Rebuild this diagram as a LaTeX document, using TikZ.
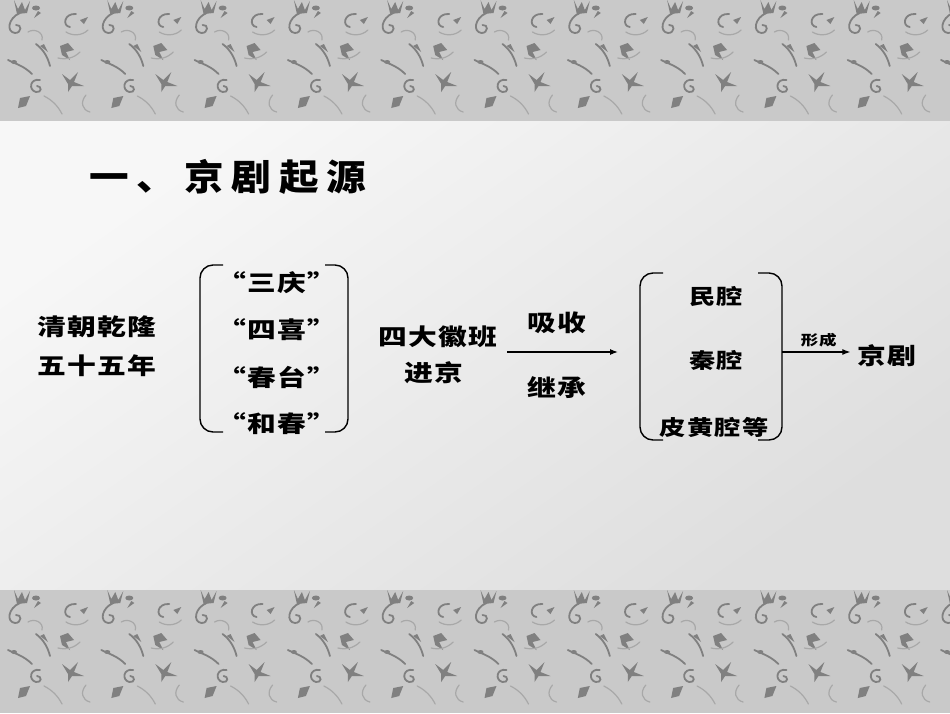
\documentclass[tikz,border=0pt]{standalone}
\usepackage{fontspec}
\newfontfamily\cjk{Noto Sans CJK SC}[FakeStretch=1.25,LetterSpace=6]
\newfontfamily\cjktitle{Noto Sans CJK SC}[FakeStretch=1.1,LetterSpace=22]
\usetikzlibrary{positioning,arrows.meta,calc}
\definecolor{bandgray}{RGB}{201,201,201}
\definecolor{motifgray}{RGB}{128,128,128}
\definecolor{motiflight}{RGB}{168,168,168}

\tikzset{
  txt/.style={font=\cjk\bfseries\fontsize{23}{26}\selectfont,inner sep=2pt},
  tune/.style={font=\cjk\bfseries\fontsize{21}{24}\selectfont,inner sep=2pt},
  paren/.style={line width=1.4pt,rounded corners=13pt},
  arr/.style={line width=1.2pt,-{Latex[length=8pt,width=6pt]}},
  swirl/.style={draw=motifgray,line width=1.8pt,line cap=round},
  thinswirl/.style={draw=motiflight,line width=1.2pt,line cap=round},
  leaf/.style={fill=motifgray},
  swirltile/.pic={
    % tulip and curling stem
    \fill[leaf] (14,0) -- (18,9) -- (22,2) -- (25,10) -- (30,1) -- (27,13) -- (17,14) -- cycle;
    \draw[swirl] (20,13) .. controls (8,18) and (6,32) .. (15,33) .. controls (22,33) and (22,24) .. (16,25);
    \fill[leaf] (36,8) ellipse (4 and 2.5);
    \fill[leaf] (41,13) -- (34,18) -- (38,11) -- cycle;
    % C curl and sprig
    \draw[swirl] (76,14) .. controls (64,13) and (62,26) .. (70,27);
    \draw[thinswirl] (66,32) .. controls (72,36) and (82,36) .. (88,30);
    \fill[leaf] (80,20) -- (88,17) -- (84,24) -- cycle;
    % middle curls
    \draw[thinswirl] (28,32) .. controls (34,28) and (44,32) .. (42,40);
    \draw[swirl] (36,44) .. controls (44,50) and (48,58) .. (50,66);
    \fill[leaf] (40,46) -- (48,52) -- (44,44) -- cycle;
    \fill[leaf] (60,46) -- (68,43) -- (74,50) -- (66,52) -- (70,60) -- (62,55) -- cycle;
    \draw[thinswirl] (58,58) .. controls (66,60) and (74,58) .. (80,52);
    % lower sprigs
    \draw[swirl] (8,60) .. controls (16,64) and (24,66) .. (32,74);
    \fill[leaf] (14,62) ellipse (3 and 2);
    \fill[leaf] (62,74) -- (70,80) -- (78,72) -- (74,82) -- (84,86) -- (72,86) -- (68,92) -- (68,84) -- cycle;
    \draw[swirl] (40,80) .. controls (30,78) and (28,90) .. (36,92) .. controls (42,93) and (42,86) .. (37,86);
    \draw[thinswirl] (44,96) .. controls (52,100) and (58,106) .. (62,114);
    \fill[leaf] (20,98) -- (30,96) -- (26,106) -- (18,108) -- cycle;
    \draw[thinswirl] (86,95) .. controls (80,102) and (82,110) .. (90,112);
  }
}

\begin{document}
\begin{tikzpicture}[x=1pt,y=-1pt]
    \useasboundingbox (0,0) rectangle (950,713);
    % Background
    \shade[top color=white!97!black,bottom color=white!87!black,shading angle=35] (0,121) rectangle (950,590);
    \begin{scope}
      \clip (0,0) rectangle (950,121) (0,590) rectangle (950,713);
      \fill[bandgray] (0,0) rectangle (950,121);
      \fill[bandgray] (0,590) rectangle (950,713);
      \foreach \i in {0,...,10} {
        \pic at (\i*93.3,0) {swirltile};
        \pic at (\i*93.3,590) {swirltile};
      }
    \end{scope}
    % Title
    \node[font=\cjktitle\bfseries\fontsize{36}{40}\selectfont,anchor=west,inner sep=0pt] (title) at (89,177) {一、京剧起源};
    % Left text
    \node[txt] (qing) at (97,327) {清朝乾隆};
    \node[txt] (year) at (97,366) {五十五年};
    % Four troupes
    \foreach \name/\y [count=\k] in {三庆/283,四喜/330,春台/377,和春/424}
      \node[txt] (b\k) at (277,\y) {“\name”};
    \draw[paren] (223,265) -- (200,265) -- (200,432) -- (223,432);
    \draw[paren] (325,265) -- (348,265) -- (348,432) -- (325,432);
    % Middle
    \node[txt] (sida) at (438,337) {四大徽班};
    \node[txt] (jin) at (434,373) {进京};
    \node[txt] (xi) at (557,323) {吸收};
    \node[txt] (ji) at (557,388) {继承};
    \coordinate (inL) at (507,352);
    \coordinate (qL) at (640,352);
    \draw[arr,shorten >=22pt] (inL) -- (qL);
    % Tunes
    \node[tune] (m1) at (716,297) {民腔};
    \node[tune] (m2) at (716,360) {秦腔};
    \node[tune] (m3) at (714,427) {皮黄腔等};
    \draw[paren] (663,273) -- (640,273) -- (640,440) -- (663,440);
    \draw[paren] (758,273) -- (782,273) -- (782,440) -- (758,440);
    \coordinate (qR) at (782,352);
    % Result
    \node[txt] (jingju) at (887,356) {京剧};
    \draw[arr,shorten >=5pt] (qR) -- (qR -| jingju.west)
      node[midway,above,font=\cjk\bfseries\fontsize{14}{16}\selectfont,inner sep=4pt] (form) {形成};
\end{tikzpicture}
\end{document}
